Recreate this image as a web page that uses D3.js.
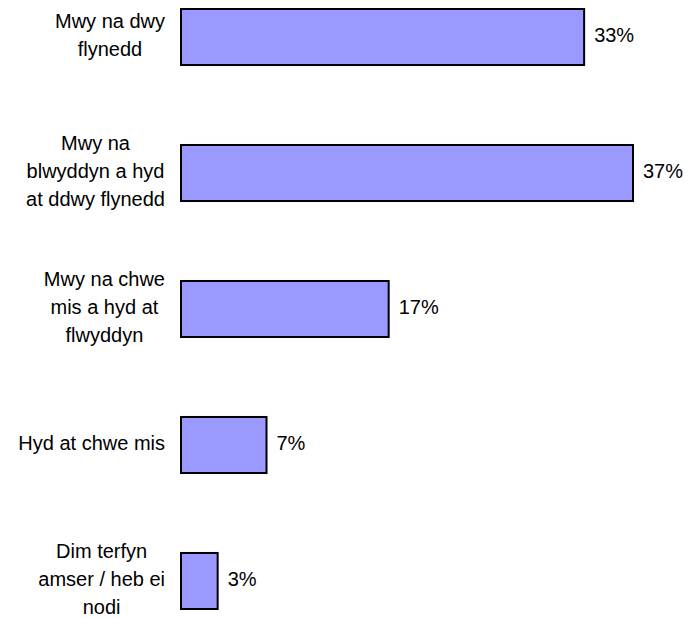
<!DOCTYPE html>
<html>
<head>
  <meta charset="utf-8">
  <title>Hyd</title>
  <script src="https://d3js.org/d3.v7.min.js"></script>
  <style>
    body { margin: 0; background: #fff; }
    text { font-family: "Liberation Sans", Arial, sans-serif; fill: #000; }
  </style>
</head>
<body>
  <script>
  // data
  var categories = [
    "Mwy na dwy flynedd",
    "Mwy na blwyddyn a hyd at ddwy flynedd",
    "Mwy na chwe mis a hyd at flwyddyn",
    "Hyd at chwe mis",
    "Dim terfyn amser / heb ei nodi"
  ];
  var labelLines = [
    ["Mwy na dwy", "flynedd"],
    ["Mwy na", "blwyddyn a hyd", "at ddwy flynedd"],
    ["Mwy na chwe", "mis a hyd at", "flwyddyn"],
    ["Hyd at chwe mis"],
    ["Dim terfyn", "amser / heb ei", "nodi"]
  ];
  var values = [33, 37, 17, 7, 3];

  var width = 688, height = 619;
  var fontSize = 20, lineHeight = 28;
  var labelRight = 165;

  var svg = d3.select("body").append("svg")
    .attr("width", width).attr("height", height);

  var x = d3.scaleLinear().domain([0, 37]).range([181, 633]);
  var y = d3.scaleBand().domain(categories).range([9, 609])
    .paddingInner(0.588).paddingOuter(0);

  // bars
  svg.selectAll("rect.bar")
    .data(values)
    .enter().append("rect")
    .attr("class", "bar")
    .attr("x", x(0))
    .attr("y", function(d, i) { return y(categories[i]); })
    .attr("width", function(d) { return x(d) - x(0); })
    .attr("height", y.bandwidth())
    .attr("fill", "#9999ff")
    .attr("stroke", "#000")
    .attr("stroke-width", 2);

  // value labels
  svg.selectAll("text.val")
    .data(values)
    .enter().append("text")
    .attr("class", "val")
    .attr("x", function(d) { return x(d) + 10; })
    .attr("y", function(d, i) { return y(categories[i]) + y.bandwidth() / 2 - 2; })
    .attr("dy", "0.35em")
    .attr("font-size", fontSize)
    .text(function(d) { return d + "%"; });

  // category labels (multi-line, block right aligned, lines centred)
  categories.forEach(function(c, i) {
    var lines = labelLines[i];
    var cy = y(c) + y.bandwidth() / 2 - 2;
    var g = svg.append("g");
    var t = g.selectAll("text").data(lines).enter().append("text")
      .attr("font-size", fontSize)
      .attr("text-anchor", "middle")
      .attr("y", function(d, j) { return cy + (j - (lines.length - 1) / 2) * lineHeight; })
      .attr("dy", "0.35em")
      .text(function(d) { return d; });
    var maxW = 0;
    t.each(function() { maxW = Math.max(maxW, this.getComputedTextLength()); });
    t.attr("x", labelRight - maxW / 2);
  });
  </script>
</body>
</html>
